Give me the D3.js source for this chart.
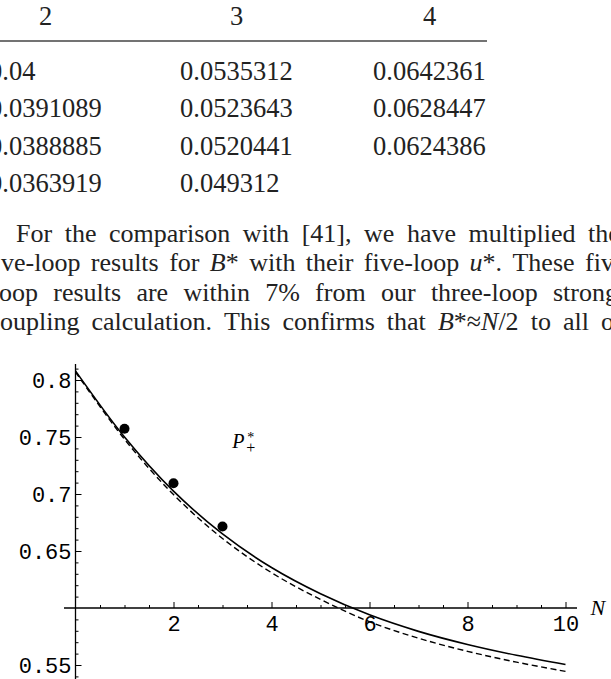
<!DOCTYPE html>
<html>
<head>
<meta charset="utf-8">
<script src="https://cdn.jsdelivr.net/npm/d3@7"></script>
<style>
  html, body { margin: 0; padding: 0; background: #fff; }
  svg { display: block; }
</style>
</head>
<body>
<svg id="page" width="611" height="679"></svg>
<script>
// ---- table of fixed-point values ----
const tableHeader = ["2", "3", "4"];
const tableCol1 = ["0.04", "0.0391089", "0.0388885", "0.0363919"];
const tableCol2 = ["0.0535312", "0.0523643", "0.0520441", "0.049312"];
const tableCol3 = ["0.0642361", "0.0628447", "0.0624386", ""];

// ---- paragraph (justified lines, _x_ = italic, ^c = superscript) ----
const paraLines = [
  "For the comparison with [41], we have multiplied the",
  "ve-loop results for _B_^* with their five-loop _u_^*. These five-",
  "oop results are within 7% from our three-loop strong-",
  "oupling calculation. This confirms that _B_^*≈_N_/2 to all orders"
];

// ---- plot data: P*_+ versus N ----
const nValues = [0, 1, 2, 3, 4, 5, 6, 7, 8, 9, 10];
const pSolid  = [0.808, 0.750, 0.7025, 0.665, 0.6355, 0.6125, 0.594, 0.5795, 0.568, 0.5585, 0.5504];
const pDashed = [0.807, 0.748, 0.6995, 0.661, 0.631, 0.6075, 0.588, 0.5735, 0.562, 0.5525, 0.5444];
const dotN = [1, 2, 3];
const dotP = [0.7572, 0.7095, 0.6715];
const xTickValues = [2, 4, 6, 8, 10];
const yTickValues = [0.55, 0.65, 0.7, 0.75, 0.8];

const svg = d3.select("#page");
const serif = "'Liberation Serif', 'Times New Roman', serif";
const mono = "'Liberation Mono', 'Courier New', monospace";
const ink = "#222";

// ---------- table ----------
const tableG = svg.append("g")
  .attr("font-family", serif).attr("font-size", 26.5).attr("fill", ink);
const colLeft = [-11, 180, 373];
const colWidth = 113;
const cols = [tableCol1, tableCol2, tableCol3];
tableHeader.forEach((h, i) => {
  tableG.append("text").attr("x", colLeft[i] + colWidth / 2).attr("y", 25)
    .attr("text-anchor", "middle").text(h);
});
tableG.append("line").attr("x1", 0).attr("x2", 487).attr("y1", 41).attr("y2", 41)
  .attr("stroke", "#444").attr("stroke-width", 1.5);
const rowBase = [80, 117, 154.5, 192];
cols.forEach((col, i) => {
  col.forEach((v, r) => {
    tableG.append("text").attr("x", colLeft[i]).attr("y", rowBase[r]).text(v);
  });
});

// ---------- paragraph ----------
const paraG = svg.append("g")
  .attr("font-family", serif).attr("font-size", 26).attr("fill", ink);
// first x, index of the last word and where that word starts (justified)
const lineLayout = [
  { x0: 16, y: 242,   ref: 8, refX: 588 },
  { x0: 1,  y: 271,   ref: 9, refX: 585 },
  { x0: -1, y: 300.5, ref: 8, refX: 553 },
  { x0: 0,  y: 330,   ref: 8, refX: 601 }
];
function parseWord(w) {
  return w.split(/(_[^_]+_|\^.)/).filter(s => s.length).map(s => {
    if (s[0] === "_" && s.length > 2) return { t: s.slice(1, -1), italic: true };
    if (s[0] === "^") return { t: s.slice(1), sup: true };
    return { t: s };
  });
}
paraLines.forEach((line, li) => {
  const lay = lineLayout[li];
  const words = line.split(" ");
  const nodes = words.map(w => {
    const t = paraG.append("text").attr("y", lay.y);
    parseWord(w).forEach(seg => {
      const ts = t.append("tspan").text(seg.t);
      if (seg.italic) ts.attr("font-style", "italic");
    });
    return t;
  });
  const widths = nodes.map(n => n.node().getComputedTextLength());
  let pre = 0;
  for (let i = 0; i < lay.ref; i++) pre += widths[i];
  const gap = (lay.refX - lay.x0 - pre) / lay.ref;
  let x = lay.x0;
  nodes.forEach((n, i) => { n.attr("x", x); x += widths[i] + gap; });
});

// ---------- plot ----------
const x = d3.scaleLinear().domain([0, 10]).range([75.5, 565.5]);
const y = d3.scaleLinear().domain([0.55, 0.8]).range([665, 380]);
const plot = svg.append("g");
const axisY0 = y(0.6);

// minor ticks
const xMinor = d3.range(0.5, 10.01, 0.5).filter(v => !xTickValues.includes(v));
const yMinor = d3.range(0.54, 0.811, 0.01).map(v => +v.toFixed(2))
  .filter(v => !yTickValues.some(t => Math.abs(t - v) < 1e-6) && Math.abs(v - 0.6) > 1e-6);

const xAxisMinor = plot.append("g").attr("transform", `translate(0,${axisY0})`)
  .call(d3.axisBottom(x).tickValues(xMinor).tickSizeInner(-3).tickSizeOuter(0).tickFormat(""));
const xAxis = plot.append("g").attr("transform", `translate(0,${axisY0})`)
  .call(d3.axisBottom(x).tickValues(xTickValues).tickSizeInner(-6).tickSizeOuter(0).tickPadding(7)
    .tickFormat(d => String(d)));
const yAxisMinor = plot.append("g").attr("transform", `translate(${x(0)},0)`)
  .call(d3.axisLeft(y).tickValues(yMinor).tickSizeInner(-3).tickSizeOuter(0).tickFormat(""));
const yAxis = plot.append("g").attr("transform", `translate(${x(0)},0)`)
  .call(d3.axisLeft(y).tickValues(yTickValues).tickSizeInner(-6).tickSizeOuter(0).tickPadding(4)
    .tickFormat(d => String(d)));

[xAxisMinor, xAxis, yAxisMinor, yAxis].forEach(g => {
  g.select(".domain").remove();
  g.selectAll(".tick line").attr("stroke", "#000").attr("stroke-width", 1);
  g.selectAll("text").attr("font-family", mono).attr("font-size", 22).attr("fill", "#000");
});

// axis lines
plot.append("line").attr("x1", 64).attr("x2", 577).attr("y1", axisY0).attr("y2", axisY0)
  .attr("stroke", "#000").attr("stroke-width", 1.3);
plot.append("line").attr("x1", x(0)).attr("x2", x(0)).attr("y1", 364).attr("y2", 679)
  .attr("stroke", "#000").attr("stroke-width", 1.3);

// curves
const line = d3.line().x((d, i) => x(nValues[i])).y(d => y(d)).curve(d3.curveCatmullRom);
plot.append("path").attr("d", line(pDashed)).attr("fill", "none")
  .attr("stroke", "#000").attr("stroke-width", 1.4).attr("stroke-dasharray", "6,3.5");
plot.append("path").attr("d", line(pSolid)).attr("fill", "none")
  .attr("stroke", "#000").attr("stroke-width", 1.6);

// data points
plot.selectAll("circle.pt").data(dotN).join("circle").attr("class", "pt")
  .attr("cx", d => x(d)).attr("cy", (d, i) => y(dotP[i])).attr("r", 5).attr("fill", "#000");

// labels
const lbl = plot.append("text").attr("font-family", serif).attr("font-size", 20).attr("fill", "#000");
const lx = x(3.2), ly = y(0.74);
lbl.append("tspan").attr("x", lx).attr("y", ly).attr("font-style", "italic").text("P");
lbl.append("tspan").attr("x", lx + 15).attr("y", ly - 6).attr("font-size", 14).text("*");
lbl.append("tspan").attr("x", lx + 14).attr("y", ly + 5).attr("font-size", 16).text("+");

plot.append("text").attr("x", x(10) + 25).attr("y", axisY0 + 7)
  .attr("font-family", serif).attr("font-style", "italic").attr("font-size", 22)
  .attr("fill", "#000").text("N");
</script>
</body>
</html>
